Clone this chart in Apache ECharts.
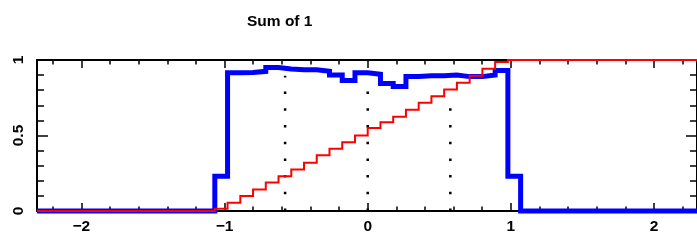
<!DOCTYPE html>
<html>
<head>
<meta charset="utf-8">
<script src="https://cdn.jsdelivr.net/npm/echarts@6/dist/echarts.min.js"></script>
<style>
html,body{margin:0;padding:0;background:#fff;}
#c{width:697px;height:242px;}
</style>
</head>
<body>
<div id="c"></div>
<script>
// ---- data ----
const titleText = "Sum of 1";
const xMin = -2.31;
const xMax = 2.3;
const xMajorTicks = [-2, -1, 0, 1, 2];
const xMinorTicks = [-2.2, -1.8, -1.6, -1.4, -1.2, -0.8, -0.6, -0.4, -0.2, 0.2, 0.4, 0.6, 0.8, 1.2, 1.4, 1.6, 1.8, 2.2];
const binEdges = [-1.068, -0.979, -0.890, -0.801, -0.712, -0.623, -0.534, -0.445, -0.356, -0.267, -0.178, -0.089, 0,
                  0.089, 0.178, 0.267, 0.356, 0.445, 0.534, 0.623, 0.712, 0.801, 0.890, 0.979, 1.068];
const blueValues = [0.23, 0.915, 0.918, 0.925, 0.95, 0.94, 0.935, 0.935, 0.925, 0.90, 0.865, 0.915,
                    0.905, 0.845, 0.825, 0.89, 0.895, 0.895, 0.90, 0.89, 0.89, 0.90, 0.93, 0.23];
const redValues = [0.015, 0.055, 0.10, 0.142, 0.188, 0.23, 0.275, 0.32, 0.37, 0.413, 0.455, 0.50,
                   0.55, 0.588, 0.625, 0.67, 0.717, 0.76, 0.805, 0.85, 0.896, 0.942, 0.986, 1.0];
const markerX = [-0.577, 0, 0.577];
const markerTop = [0.895, 0.815, 0.70];

// ---- build step series from the bins ----
function stepData(values, before, after) {
  const d = [[xMin, before]];
  for (let i = 0; i < values.length; i++) d.push([binEdges[i], values[i]]);
  d.push([binEdges[binEdges.length - 1], after]);
  d.push([xMax, after]);
  return d;
}

const labelFont = { fontFamily: 'Liberation Sans, Arial, sans-serif', fontSize: 15.5, fontWeight: 'bold', color: '#000' };
const minus = v => String(v).replace('-', '\u2212');

function xAxisDef(pos, ticks, len, labels) {
  return {
    type: 'value', position: pos, min: xMin, max: xMax,
    axisLine: { show: true, onZero: false, lineStyle: { color: '#000', width: 2 } },
    axisTick: { show: true, inside: true, length: len, customValues: ticks, lineStyle: { color: '#000', width: 1.5 } },
    axisLabel: labels ? Object.assign({ show: true, customValues: ticks, margin: 8, formatter: minus }, labelFont) : { show: false },
    splitLine: { show: false }
  };
}
function yAxisDef(pos, labels) {
  return {
    type: 'value', position: pos, min: 0, max: 1, interval: 0.5,
    axisLine: { show: true, onZero: false, lineStyle: { color: '#000', width: 2 } },
    axisTick: { show: true, inside: true, length: 11, lineStyle: { color: '#000', width: 1.5 } },
    minorTick: { show: true, splitNumber: 5, length: 7, lineStyle: { color: '#000', width: 1.5 } },
    axisLabel: labels ? Object.assign({ show: true, rotate: 90, margin: 10 }, labelFont) : { show: false },
    splitLine: { show: false }, minorSplitLine: { show: false }
  };
}

const series = [];
markerX.forEach((x, i) => {
  series.push({
    type: 'line', xAxisIndex: 0, yAxisIndex: 0, symbol: 'none', silent: true,
    data: [[x, 0], [x, markerTop[i]]],
    lineStyle: { color: '#000', width: 2.5, type: [2.5, 14.2] }
  });
});
series.push({
  type: 'line', step: 'end', xAxisIndex: 0, yAxisIndex: 0, symbol: 'none', clip: false,
  data: stepData(blueValues, 0, 0),
  lineStyle: { color: '#0000ff', width: 5, join: 'miter' }
});
series.push({
  type: 'line', step: 'end', xAxisIndex: 0, yAxisIndex: 0, symbol: 'none', clip: false,
  data: stepData(redValues, 0, 1),
  lineStyle: { color: '#ff0000', width: 2, join: 'miter' }
});

const chart = echarts.init(document.getElementById('c'), null, { renderer: 'canvas' });
chart.setOption({
  animation: false,
  backgroundColor: '#fff',
  title: {
    text: titleText, left: 242, top: 9,
    textStyle: { fontFamily: 'Liberation Sans, Arial, sans-serif', fontSize: 15.5, fontWeight: 'bold', color: '#000' }
  },
  grid: { left: 37, top: 60, width: 663, height: 151, containLabel: false },
  xAxis: [
    xAxisDef('bottom', xMajorTicks, 8, true),
    xAxisDef('bottom', xMinorTicks, 4.5, false),
    xAxisDef('top', xMajorTicks, 8, false),
    xAxisDef('top', xMinorTicks, 4.5, false)
  ],
  yAxis: [yAxisDef('left', true), yAxisDef('right', false)],
  series: series
});
</script>
</body>
</html>
